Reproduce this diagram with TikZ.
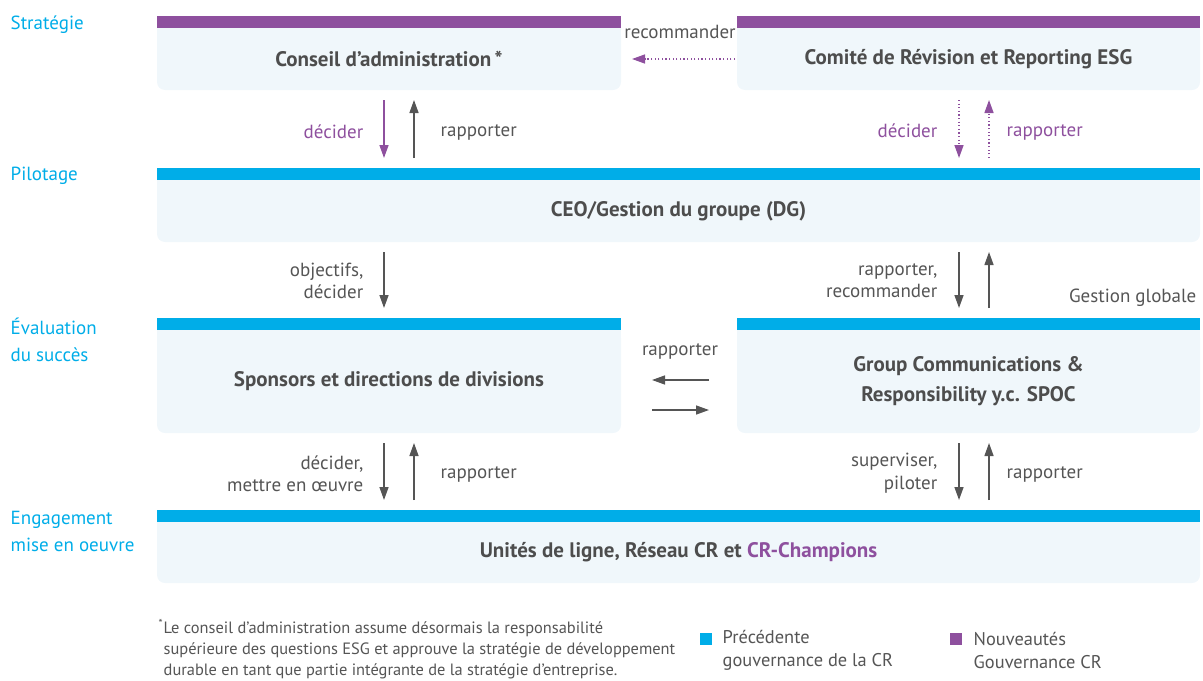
\documentclass[tikz,border=0pt]{standalone}
\usepackage{fontspec}
\setmainfont{PT Sans}
\usetikzlibrary{arrows.meta,backgrounds,positioning}

\definecolor{lilac}{RGB}{142,80,158}
\definecolor{sky}{RGB}{0,173,232}
\definecolor{boxfill}{RGB}{240,247,251}
\definecolor{ink}{RGB}{77,77,77}
\definecolor{arrowgrey}{RGB}{85,85,85}

\tikzset{
    box/.style={inner sep=0pt, outer sep=0pt, text=ink, align=center,
        font=\fontsize{10.5}{15}\selectfont\bfseries},
    lbl/.style={inner sep=0pt, text=arrowgrey, font=\fontsize{9.5}{11.2}\selectfont},
    lvl/.style={inner sep=0pt, anchor=west, align=left, text=sky,
        font=\fontsize{9.5}{13.5}\selectfont},
    down/.style={->, shorten <=5pt, shorten >=11pt},
    up/.style={->, shorten <=11pt, shorten >=5pt},
    newflow/.style={lilac, dash pattern=on 0.6pt off 1.2pt}
}

\begin{document}
\begin{tikzpicture}[x=0.5pt, y=-0.5pt, line width=0.7pt,
    >={Triangle[width=4.5pt,length=6.5pt]}]
\useasboundingbox (0,0) rectangle (1203,680);

% levels
\node[lvl] (strat) at (10,25) {Stratégie};
\node[lvl] (pilot) at (10,176) {Pilotage};
\node[lvl] (eval) at (10,339.5) {Évaluation\\du succès};
\node[lvl] (engag) at (10,531.5) {Engagement\\mise en oeuvre};

% boxes
\node[box, minimum width=232pt, minimum height=31pt] (conseil) at (389,59) {Conseil d’administration\,*};
\node[box, minimum width=231.5pt, minimum height=31pt] (comite) at (968.5,59) {Comité de Révision et Reporting ESG};
\node[box, minimum width=521.5pt, minimum height=31pt] (ceo) at (678.5,211) {CEO/Gestion du groupe (DG)};
\node[box, minimum width=232pt, minimum height=51.5pt] (sponsors) at (389,381.5) {Sponsors et directions de divisions};
\node[box, minimum width=231.5pt, minimum height=51.5pt] (gcr) at (968.5,381.5) {Group Communications \&\\Responsibility y.c. SPOC};
\node[box, minimum width=521.5pt, minimum height=30.5pt] (unites) at (678.5,552.5) {Unités de ligne, Réseau CR et \textcolor{lilac}{CR-Champions}};

\begin{scope}[on background layer]
\foreach \b/\c in {conseil/lilac, comite/lilac, ceo/sky, sponsors/sky, gcr/sky, unites/sky} {
    \fill[boxfill, rounded corners=4pt] (\b.north west) rectangle (\b.south east);
    \fill[boxfill] (\b.north west) rectangle (\b.east);
    \fill[\c] (\b.north west) rectangle ([yshift=6pt]\b.north east);
}
\end{scope}

% arrow columns
\coordinate (colA) at (384,0);
\coordinate (colB) at (414,0);
\coordinate (colC) at (959,0);
\coordinate (colD) at (989,0);
\coordinate (rowE) at (0,380);
\coordinate (rowF) at (0,410);

\draw[newflow, ->, shorten <=1pt, shorten >=5.5pt] (comite.west) -- (conseil.east);
\draw[lilac, down] (conseil.south -| colA) -- (ceo.north -| colA);
\draw[arrowgrey, up] (ceo.north -| colB) -- (conseil.south -| colB);
\draw[newflow, down] (comite.south -| colC) -- (ceo.north -| colC);
\draw[newflow, up] (ceo.north -| colD) -- (comite.south -| colD);

\draw[arrowgrey, down] (ceo.south -| colA) -- (sponsors.north -| colA);
\draw[arrowgrey, down] (ceo.south -| colC) -- (gcr.north -| colC);
\draw[arrowgrey, up] (gcr.north -| colD) -- (ceo.south -| colD);

\draw[arrowgrey, ->, shorten <=14pt, shorten >=15.5pt] (gcr.west |- rowE) -- (sponsors.east |- rowE);
\draw[arrowgrey, ->, shorten <=15.5pt, shorten >=14pt] (sponsors.east |- rowF) -- (gcr.west |- rowF);

\draw[arrowgrey, down] (sponsors.south -| colA) -- (unites.north -| colA);
\draw[arrowgrey, up] (unites.north -| colB) -- (sponsors.south -| colB);
\draw[arrowgrey, down] (gcr.south -| colC) -- (unites.north -| colC);
\draw[arrowgrey, up] (unites.north -| colD) -- (gcr.south -| colD);

% labels
\node[lbl] (reco) at (680,32) {recommander};
\node[lbl, text=lilac, anchor=east] (dec1) at (364,132) {décider};
\node[lbl, anchor=west] (rap1) at (440,132) {rapporter};
\node[lbl, text=lilac, anchor=east] (dec2) at (938,131) {décider};
\node[lbl, text=lilac, anchor=west] (rap2) at (1006,132) {rapporter};
\node[lbl, anchor=east, align=right] (obj) at (364,281) {objectifs,\\décider};
\node[lbl, anchor=east, align=right] (rapreco) at (938,280.5) {rapporter,\\recommander};
\node[lbl, anchor=east] (gest) at (1197,298) {Gestion globale};
\node[lbl] (rap3) at (680,351) {rapporter};
\node[lbl, anchor=east, align=right] (decmet) at (364,473.5) {décider,\\mettre en œuvre};
\node[lbl, anchor=west] (rap4) at (440,474) {rapporter};
\node[lbl, anchor=east, align=right] (sup) at (938,473) {superviser,\\piloter};
\node[lbl, anchor=west] (rap5) at (1006,474) {rapporter};

% footnote and legend
\node[lbl, anchor=west, align=left, font=\fontsize{8.2}{10.5}\selectfont] (note) at (163,649)
    {\llap{\textsuperscript{*}}Le conseil d’administration assume désormais la responsabilité\\
     supérieure des questions ESG et approuve la stratégie de développement\\
     durable en tant que partie intégrante de la stratégie d’entreprise.};
\node[minimum size=6pt, inner sep=0pt, fill=sky] (sqold) at (706,639) {};
\node[lbl, anchor=west, align=left, font=\fontsize{9.2}{11.5}\selectfont] (old) at (722,650.5) {Précédente\\gouvernance de la CR};
\node[minimum size=6pt, inner sep=0pt, fill=lilac] (sqnew) at (956,639) {};
\node[lbl, anchor=west, align=left, font=\fontsize{9.2}{11.5}\selectfont] (new) at (973,650.5) {Nouveautés\\Gouvernance CR};
\end{tikzpicture}
\end{document}
